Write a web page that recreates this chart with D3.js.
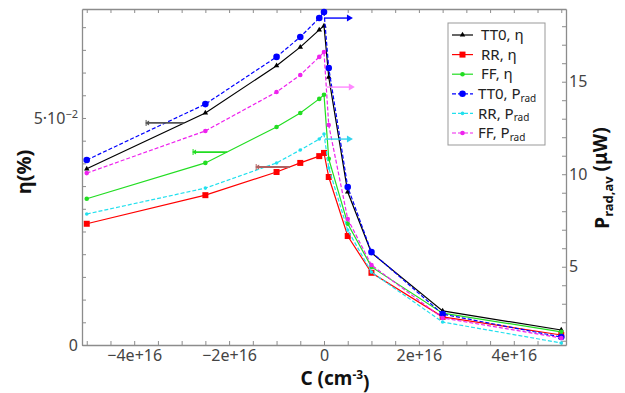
<!DOCTYPE html>
<html>
<head>
<meta charset="utf-8">
<script src="https://cdn.jsdelivr.net/npm/d3@7"></script>
<style>
    body { margin: 0; background: #fff; }
    svg { display: block; font-family: "Noto Sans", "Open Sans", sans-serif; }
</style>
</head>
<body>
<div id="chart"></div>
<script>
// carrier concentration (cm^-3)
var concentration = [-5e16, -2.5e16, -1e16, -5e15, -1e15, 0, 1e15, 5e15, 1e16, 2.5e16, 5e16];

// efficiency (left axis)
var etaTT0 = [0.0388, 0.0511, 0.0615, 0.0656, 0.0694, 0.0703, 0.0590, 0.0337, 0.0203, 0.0075, 0.0033];
var etaRR = [0.0267, 0.0330, 0.0381, 0.0401, 0.0416, 0.0423, 0.0370, 0.0240, 0.0159, 0.0062, 0.0022];
var etaFF = [0.0322, 0.0401, 0.0480, 0.0511, 0.0542, 0.0551, 0.0410, 0.0267, 0.0172, 0.0070, 0.0029];

// radiated power, uW (right axis)
var pradTT0 = [10.77, 13.79, 16.34, 17.42, 18.44, 18.77, 15.74, 9.31, 5.79, 2.44, 1.20];
var pradRR = [7.85, 9.25, 10.61, 11.31, 11.90, 12.17, 10.34, 6.98, 4.71, 2.01, 0.88];
var pradFF = [10.06, 12.34, 14.44, 15.36, 16.34, 16.61, 12.66, 7.58, 5.09, 2.23, 1.15];

var seriesNames = ["TT0, η", "RR, η", "FF, η", "TT0, Prad", "RR, Prad", "FF, Prad"];

// arrows pointing at the axis of each curve
var arrowLevel = [0.0489, 0.0392, 0.0425, 18.44, 11.90, 14.71];
var arrowFrom = [-2.95e16, -0.72e16, -2.04e16, 0, 0.02e16, 0.06e16];
var arrowTo = [-3.77e16, -1.45e16, -2.78e16, 0.61e16, 0.61e16, 0.65e16];

var xTicks = d3.range(-10, 11).map(function (k) { return k * 5e15; });
var xLabels = [-4e16, -2e16, 0, 2e16, 4e16];
var leftTicks = d3.range(0, 15).map(function (k) { return k * 0.005; });
var rightTicks = d3.range(1, 19);
var rightLabels = [5, 10, 15];

var styles = [
    { color: "#000000", dash: null, marker: "triangle", arrow: "#555555" },
    { color: "#ff0000", dash: null, marker: "square", arrow: "#b06060" },
    { color: "#22dd22", dash: null, marker: "dot", arrow: "#22dd22" },
    { color: "#0000ff", dash: "4,2", marker: "circle", arrow: "#0000ff" },
    { color: "#22e0ee", dash: "4,2", marker: "small", arrow: "#33d4ee" },
    { color: "#ee22ee", dash: "4,2", marker: "dot", arrow: "#ff88ff" }
];

var margin = { top: 9, right: 59, bottom: 48, left: 82 };
var width = 625 - margin.left - margin.right;
var height = 393 - margin.top - margin.bottom;
var axisColor = "#8c8c8c";
var textColor = "#444";

var svg = d3.select("#chart").append("svg")
    .attr("width", 625)
    .attr("height", 393);

var g = svg.append("g")
    .attr("transform", "translate(" + margin.left + "," + margin.top + ")");

var x = d3.scaleLinear().domain([-5.1e16, 5.1e16]).range([0, width]);
var yLeft = d3.scaleLinear().domain([0, 0.074]).range([height, 0]);
var yRight = d3.scaleLinear().domain([0.77, 18.93]).range([height, 0]);

function fmtX(d) {
    if (xLabels.indexOf(d) < 0) return "";
    if (d === 0) return "0";
    return (d < 0 ? "\u2212" : "") + Math.abs(d / 1e16) + "e+16";
}

function styleAxis(sel) {
    sel.select(".domain").attr("stroke", axisColor).attr("stroke-width", 1.3);
    sel.selectAll(".tick line").attr("stroke", axisColor);
    sel.selectAll(".tick text").attr("fill", textColor).style("font-size", "16px");
    sel.attr("font-family", null);
}

g.append("g")
    .attr("transform", "translate(0," + height + ")")
    .call(d3.axisBottom(x).tickValues(xTicks).tickFormat(fmtX).tickSize(-4).tickSizeOuter(0).tickPadding(5))
    .call(styleAxis);

g.append("g")
    .call(d3.axisTop(x).tickValues(xTicks).tickFormat("").tickSize(-4).tickSizeOuter(0))
    .call(styleAxis);

var leftAxis = g.append("g")
    .call(d3.axisLeft(yLeft).tickValues(leftTicks).tickSize(-4).tickSizeOuter(0).tickPadding(4)
        .tickFormat(function (d, i) { return i === 0 ? "0" : ""; }))
    .call(styleAxis);

// 5·10^-2 label with a superscript
var fiveTick = leftAxis.selectAll(".tick").filter(function (d, i) { return i === 10; }).select("text");
fiveTick.text("5·10");
fiveTick.append("tspan").attr("dy", "-0.5em").style("font-size", "11px").text("\u22122");

g.append("g")
    .attr("transform", "translate(" + width + ",0)")
    .call(d3.axisRight(yRight).tickValues(rightTicks).tickSize(-4).tickSizeOuter(0).tickPadding(3)
        .tickFormat(function (d) { return rightLabels.indexOf(d) >= 0 ? d : ""; }))
    .call(styleAxis);

// curves
var allValues = [etaTT0, etaRR, etaFF, pradTT0, pradRR, pradFF];

function scaleFor(i) {
    return i < 3 ? yLeft : yRight;
}

function drawMarker(sel, type, color) {
    if (type === "triangle") {
        sel.append("path").attr("d", d3.symbol().type(d3.symbolTriangle).size(13)()).attr("fill", color);
    } else if (type === "square") {
        sel.append("rect").attr("x", -3).attr("y", -3).attr("width", 6).attr("height", 6).attr("fill", color);
    } else if (type === "circle") {
        sel.append("circle").attr("r", 3.3).attr("fill", color);
    } else if (type === "small") {
        sel.append("circle").attr("r", 1.8).attr("fill", color);
    } else {
        sel.append("circle").attr("r", 2.3).attr("fill", color);
    }
}

allValues.forEach(function (vals, i) {
    var sc = scaleFor(i);
    var st = styles[i];
    var line = d3.line()
        .x(function (d, j) { return x(concentration[j]); })
        .y(function (d) { return sc(d); });

    g.append("path")
        .datum(vals)
        .attr("fill", "none")
        .attr("stroke", st.color)
        .attr("stroke-width", 1.2)
        .attr("stroke-dasharray", st.dash)
        .attr("d", line);

    g.selectAll(".pt" + i)
        .data(vals)
        .enter().append("g")
        .attr("class", "pt" + i)
        .attr("transform", function (d, j) {
            return "translate(" + x(concentration[j]) + "," + sc(d) + ")";
        })
        .each(function () { drawMarker(d3.select(this), st.marker, st.color); });
});

// arrows
arrowLevel.forEach(function (lv, i) {
    var sc = scaleFor(i);
    var yy = sc(lv);
    var x0 = x(arrowFrom[i]);
    var x1 = x(arrowTo[i]);
    var col = styles[i].arrow;
    var dir = x1 > x0 ? 1 : -1;

    g.append("line")
        .attr("x1", x0).attr("x2", x1 - dir * 2)
        .attr("y1", yy).attr("y2", yy)
        .attr("stroke", col)
        .attr("stroke-width", i < 3 ? 1.8 : 1.4);

    if (dir > 0) {
        g.append("path")
            .attr("d", "M" + (x1 - 6) + "," + (yy - 3.5) + "L" + x1 + "," + yy + "L" + (x1 - 6) + "," + (yy + 3.5) + "Z")
            .attr("fill", col);
    } else {
        g.append("path")
            .attr("d", "M" + (x1 + 4) + "," + (yy - 2.5) + "L" + x1 + "," + yy + "L" + (x1 + 4) + "," + (yy + 2.5) + "Z")
            .attr("fill", col);
        g.append("line")
            .attr("x1", x1 + 1).attr("x2", x1 + 1)
            .attr("y1", yy - 3).attr("y2", yy + 3)
            .attr("stroke", col);
    }
});

// legend
var legend = svg.append("g").attr("transform", "translate(448,23)");

legend.append("rect")
    .attr("width", 97)
    .attr("height", 122)
    .attr("fill", "#fff")
    .attr("stroke", "#999")
    .attr("stroke-width", 1);

seriesNames.forEach(function (name, i) {
    var st = styles[i];
    var yy = 12 + i * 19.6;
    var row = legend.append("g").attr("transform", "translate(0," + yy + ")");

    row.append("line")
        .attr("x1", 4).attr("x2", 25)
        .attr("stroke", st.color)
        .attr("stroke-width", 1.2)
        .attr("stroke-dasharray", st.dash);

    drawMarker(row.append("g").attr("transform", "translate(14.5,0)"), st.marker, st.color);

    var t = row.append("text")
        .attr("x", i < 3 ? 33 : 30)
        .attr("dy", "0.35em")
        .attr("fill", "#222")
        .style("font-size", "15px");

    if (name.indexOf("Prad") >= 0) {
        t.text(name.replace("Prad", "P"));
        t.append("tspan").attr("dy", "0.25em").style("font-size", "10px").text("rad");
    } else {
        t.text(name);
    }
});

// axis titles
var xTitle = svg.append("text")
    .attr("x", 335)
    .attr("y", 385)
    .attr("text-anchor", "middle")
    .attr("fill", "#111")
    .style("font-size", "19px")
    .style("font-weight", "bold")
    .text("C (cm");
xTitle.append("tspan").attr("dy", "-0.5em").style("font-size", "12px").text("-3");
xTitle.append("tspan").attr("dy", "0.5em").text(")");

svg.append("text")
    .attr("transform", "translate(31,172) rotate(-90)")
    .attr("text-anchor", "middle")
    .attr("fill", "#111")
    .style("font-size", "20px")
    .style("font-weight", "bold")
    .text("η(%)");

var rTitle = svg.append("text")
    .attr("transform", "translate(609,178) rotate(-90)")
    .attr("text-anchor", "middle")
    .attr("fill", "#111")
    .style("font-size", "19px")
    .style("font-weight", "bold")
    .text("P");
rTitle.append("tspan").attr("dy", "0.3em").style("font-size", "13px").text("rad,av");
rTitle.append("tspan").attr("dy", "-0.3em").text(" (μW)");
</script>
</body>
</html>
